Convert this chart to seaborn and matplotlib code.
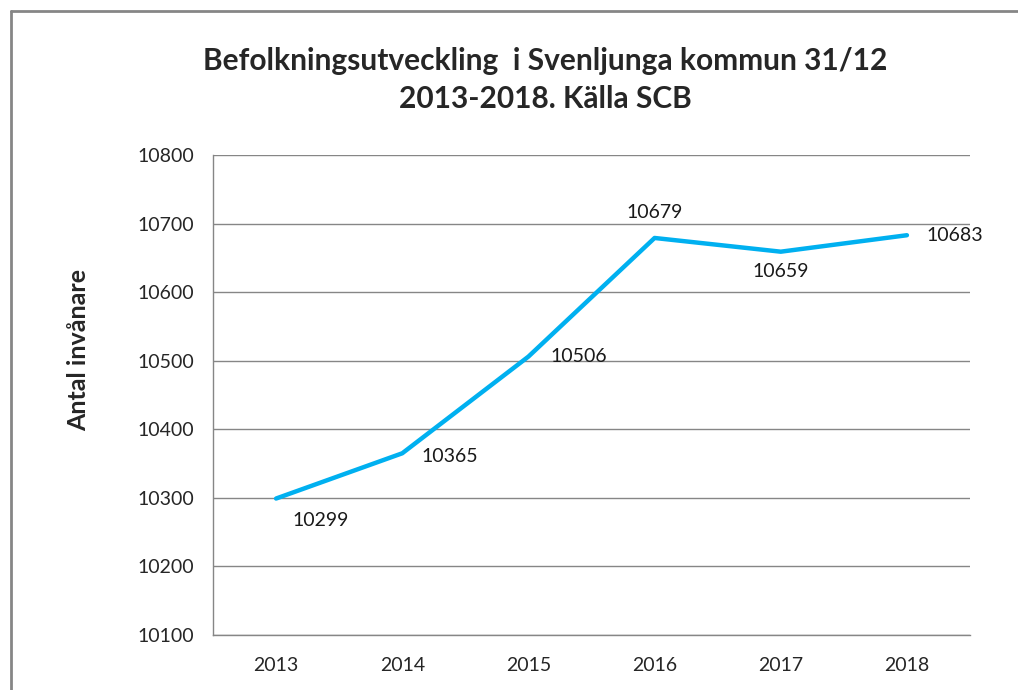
import pandas as pd
import seaborn as sns
import matplotlib.pyplot as plt
from matplotlib.lines import Line2D

# Data
years = ['2013', '2014', '2015', '2016', '2017', '2018']
invanare = [10299, 10365, 10506, 10679, 10659, 10683]
# label offsets (points) like Excel placement
offsets = [(12, -16), (14, -2), (16, 0), (0, 18), (0, -14), (14, 0)]

df = pd.DataFrame({'År': years, 'Antal': invanare})

sns.set_style('white')
plt.rcParams['font.family'] = ['Lato', 'DejaVu Sans']

fig = plt.figure(figsize=(10.18, 6.9), dpi=100)
ax = fig.add_axes([213 / 1018, 55 / 690, 757 / 1018, 480 / 690])

sns.lineplot(data=df, x='År', y='Antal', color='#00B0F0', linewidth=3.2, ax=ax)

for i, (v, off) in enumerate(zip(invanare, offsets)):
    ha = 'center' if off[0] == 0 else 'left'
    ax.annotate(str(v), (i, v), xytext=off, textcoords='offset points',
                ha=ha, va='center', fontsize=14, color='#1a1a1a')

ax.set_xlim(-0.5, len(years) - 0.5)
ax.set_ylim(10100, 10800)
ax.set_yticks(range(10100, 10801, 100))
ax.set_xticks(range(len(years)))
ax.set_xticklabels(years)
ax.set_xticks([i + 0.5 for i in range(-1, len(years))], minor=True)
ax.tick_params(axis='x', which='major', length=0, pad=16, labelsize=14)
ax.tick_params(axis='x', which='minor', length=6, color='#868686', width=1)
ax.tick_params(axis='y', length=4.5, color='#868686', width=1, labelsize=14, pad=9)
ax.yaxis.grid(True, color='#868686', linewidth=1)
ax.xaxis.grid(False)
for s in ['top', 'right']:
    ax.spines[s].set_visible(False)
for s in ['left', 'bottom']:
    ax.spines[s].set_color('#868686')
    ax.spines[s].set_linewidth(1)

ax.set_xlabel('')
ax.set_ylabel('Antal invånare', fontsize=18, fontweight='bold')
ax.yaxis.set_label_coords((90 - 213) / 757, (635 - 350) / 480)

fig.text(545 / 1018, 1 - 80 / 690,
         'Befolkningsutveckling  i Svenljunga kommun 31/12\n2013-2018. Källa SCB',
         ha='center', va='center', fontsize=21.5, fontweight='bold', linespacing=1.4)

# chart border
fig.add_artist(Line2D([11 / 1018, 11 / 1018], [0, 1 - 11 / 690], color='#868686', linewidth=2))
fig.add_artist(Line2D([11 / 1018, 1], [1 - 11 / 690, 1 - 11 / 690], color='#868686', linewidth=2))

plt.savefig('out.png', dpi=100)
